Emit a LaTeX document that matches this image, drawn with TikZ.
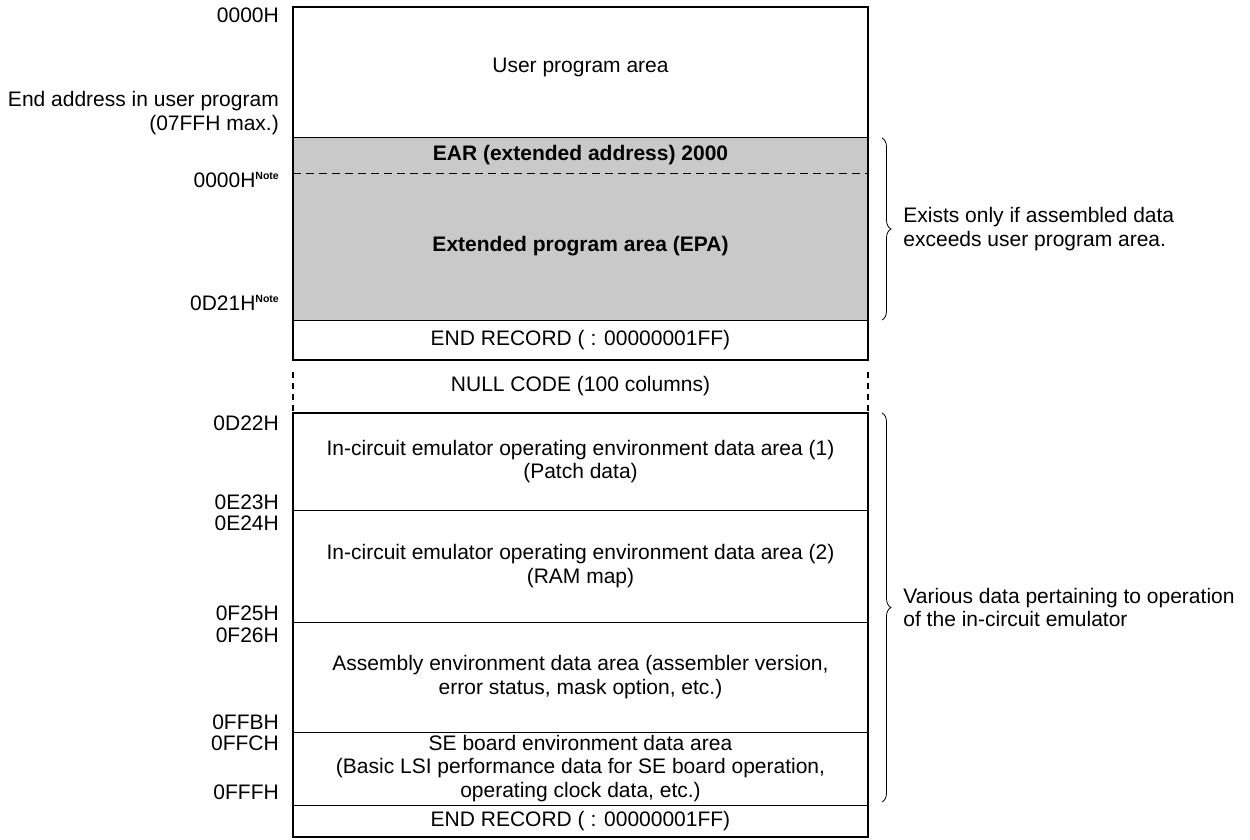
\documentclass[tikz,border=0pt]{standalone}
\usepackage{fontspec}
\setmainfont{Liberation Sans}
\usetikzlibrary{positioning, decorations.pathreplacing}

\newcommand{\mapfont}{\fontsize{21}{23.5}\selectfont}
\newcommand{\nota}{\raisebox{8pt}{\fontsize{10.5}{10.5}\selectfont\bfseries Note}}

\tikzset{
  area/.style    = {rectangle, draw, line width=1pt, minimum width=575pt, inner sep=0pt, outer sep=0pt, align=center, font=\mapfont},
  shaded/.style  = {area, draw=none, fill=black!21},
  vuoto/.style   = {area, draw=none},
  frame/.style   = {line width=2.2pt},
  rule/.style    = {line width=1pt},
  sep/.style     = {line width=0.8pt, dash pattern=on 8pt off 5pt},
  gap/.style     = {line width=2.4pt, dash pattern=on 6pt off 5pt},
  addr/.style    = {anchor=east, inner sep=0pt, align=right, font=\mapfont},
  brace/.style   = {decorate, decoration={brace, amplitude=9pt}, line width=0.8pt},
  remark/.style  = {anchor=west, inner sep=0pt, align=left, font=\mapfont}
}

\begin{document}
\begin{tikzpicture}[x=1pt, y=-1pt]
  \useasboundingbox (0,0) rectangle (1250,840);

  % program file (top)
  \node[area, minimum height=131pt, anchor=north west] (user) at (293,7) {User program area\\[-9pt]};
  \node[shaded, minimum height=35pt, below=0pt of user]  (ear)  {\bfseries EAR (extended address) 2000};
  \node[shaded, minimum height=147pt, below=0pt of ear]  (epa)  {\bfseries Extended program area (EPA)};
  \node[area, minimum height=40pt, below=0pt of epa]     (end1) {END RECORD ( : 00000001FF)};
  \node[vuoto, minimum height=53pt, below=0pt of end1]   (null) {NULL CODE (100 columns)};

  % emulator data (bottom)
  \node[area, minimum height=97pt, below=0pt of null]  (ice1) {In-circuit emulator operating environment data area (1)\\(Patch data)};
  \node[area, minimum height=112pt, below=0pt of ice1] (ice2) {In-circuit emulator operating environment data area (2)\\(RAM map)};
  \node[area, minimum height=110pt, below=0pt of ice2] (asm)  {Assembly environment data area (assembler version,\\error status, mask option, etc.)};
  \node[area, minimum height=73pt, below=0pt of asm]   (se)   {SE board environment data area\\(Basic LSI performance data for SE board operation,\\operating clock data, etc.)};
  \node[area, minimum height=32pt, below=0pt of se]    (end2) {END RECORD ( : 00000001FF)};

  \draw[rule] (ear.north west) -- (ear.north east);
  \draw[sep]  (ear.south west) -- (ear.south east);
  \draw[frame] (user.north west) rectangle (end1.south east);
  \draw[frame] (ice1.north west) rectangle (end2.south east);
  \draw[gap] ([yshift=-12pt]null.north west) -- ([yshift=-1pt]null.south west);
  \draw[gap] ([yshift=-12pt]null.north east) -- ([yshift=-1pt]null.south east);

  % addresses
  \node[addr] (a0)  at (279,15)  {0000H};
  \node[addr] (a1)  at (279,113) {End address in user program\\(07FFH max.)};
  \node[addr] (a2)  at (279,180) {0000H\nota};
  \node[addr] (a3)  at (279,303) {0D21H\nota};
  \node[addr] (a4)  at (279,423) {0D22H};
  \node[addr] (a5)  at (279,502) {0E23H};
  \node[addr] (a6)  at (279,523) {0E24H};
  \node[addr] (a7)  at (279,613) {0F25H};
  \node[addr] (a8)  at (279,635) {0F26H};
  \node[addr] (a9)  at (279,722) {0FFBH};
  \node[addr] (a10) at (279,743) {0FFCH};
  \node[addr] (a11) at (279,792) {0FFFH};

  % braces
  \draw[brace] ([xshift=14pt]ear.north east) -- ([xshift=14pt]epa.south east)
    node[remark, midway, xshift=21pt] (why) {Exists only if assembled data\\exceeds user program area.};
  \draw[brace] ([xshift=14pt]ice1.north east) -- ([xshift=14pt, yshift=3pt]se.south east)
    node[remark, midway, xshift=21pt] (what) {Various data pertaining to operation\\of the in-circuit emulator};

\end{tikzpicture}
\end{document}
